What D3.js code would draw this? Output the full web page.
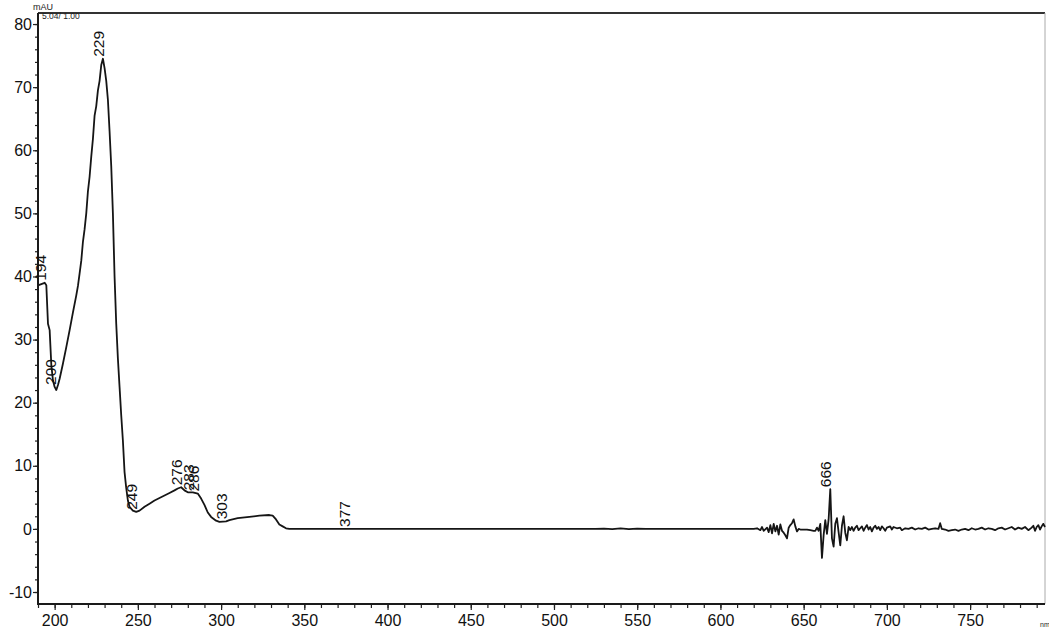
<!DOCTYPE html>
<html>
<head>
<meta charset="utf-8">
<script src="https://cdn.jsdelivr.net/npm/d3@7"></script>
<style>
  html, body { margin: 0; padding: 0; background: #fff; }
  svg { display: block; font-family: "Liberation Sans", Arial, sans-serif; }
</style>
</head>
<body>
<svg id="chart" width="1049" height="632"></svg>
<script>
// UV-Vis spectrum (DAD), wavelength in nm, absorbance in mAU
const wavelengths = [
  190, 192, 194, 195, 196, 197, 198, 199, 200, 201, 202, 203, 205, 207, 209, 211, 213, 214,
  215, 216, 217, 218, 219, 220, 221, 222, 223, 224, 225, 226, 227, 228, 229, 230, 231, 232,
  233, 234, 235, 236, 237, 238, 239, 240, 241, 242, 243, 244, 245, 247, 249, 251, 254, 257,
  260, 263, 266, 269, 272, 274, 276, 278, 280, 283, 286, 288, 290, 292, 294, 297, 299, 303,
  305, 310, 317, 323, 329, 331, 333, 335, 337, 339, 341, 345, 377, 400, 450, 500, 525, 530,
  535, 540, 545, 550, 555, 600, 620, 622, 624, 625, 626, 628, 629, 630, 631, 632, 633, 634,
  635, 636, 637, 638, 639, 640, 641, 642, 643, 644, 645, 646, 647, 648, 650, 652, 654, 656,
  657, 658, 659, 660, 661, 662, 663, 664, 665, 666, 667, 668, 669, 670, 671, 672, 673, 674,
  675, 676, 677, 678, 679, 680, 681, 682, 683, 684, 685, 686, 687, 688, 689, 690, 691, 692,
  693, 694, 695, 696, 697, 698, 699, 700, 702, 703, 704, 706, 708, 709, 711, 713, 715, 717,
  719, 721, 723, 725, 727, 729, 731, 732, 733, 735, 737, 739, 741, 743, 745, 747, 749, 751,
  753, 755, 757, 759, 761, 763, 765, 767, 769, 771, 773, 775, 777, 779, 781, 783, 785, 787,
  788, 789, 790, 791, 792, 793, 794, 795
];
const absorbance = [
  38.6, 38.8, 39.0, 38.6, 32.5, 31.5, 26.0, 23.5, 22.5, 22.0, 22.8, 23.8, 26.2, 28.8, 31.5, 34.3, 37.0, 38.5,
  40.5, 42.5, 45.5, 47.5, 50.0, 53.5, 55.8, 59.0, 61.8, 65.5, 67.0, 69.5, 71.0, 73.5, 74.5, 73.0, 71.0, 68.0,
  63.0, 57.5, 50.0, 40.0, 32.5, 27.0, 22.5, 18.0, 14.0, 9.0, 6.5, 4.5, 3.5, 2.9, 2.7, 2.9, 3.5, 4.0,
  4.5, 4.9, 5.3, 5.7, 6.1, 6.4, 6.6, 6.1, 5.8, 5.8, 5.6, 4.8, 3.8, 2.6, 1.9, 1.3, 1.1, 1.2,
  1.4, 1.7, 1.9, 2.1, 2.2, 2.1, 1.5, 0.7, 0.4, 0.1, 0.0, 0.0, 0.0, 0.0, 0.0, 0.0, 0.0, 0.05,
  -0.05, 0.08, -0.05, 0.05, 0.0, 0.0, 0.0, 0.1, -0.2, 0.3, -0.3, 0.2, -0.5, 0.6, -0.7, 0.8, -0.4, 0.5,
  -0.9, 0.7, -0.3, -0.6, -1.0, -1.5, 0.2, 0.6, 0.9, 1.5, 0.4, -0.4, 0.0, -0.1, -0.1, -0.1, -0.2, -0.3,
  -0.3, 0.2, -0.3, 0.8, -4.6, -1.0, 1.4, -0.8, 1.5, 6.3, -1.5, -2.8, 0.8, 1.7, -0.5, -2.6, 0.5, 2.0,
  -0.6, -1.8, 0.3, -0.2, 0.3, -0.3, 0.2, 0.5, -0.2, 0.1, 0.4, -0.3, 0.2, 0.6, -0.1, 0.3, -0.4, 0.2,
  0.5, 0.0, 0.3, -0.2, 0.4, 0.1, -0.3, 0.2, 0.4, -0.1, 0.3, 0.1, 0.2, -0.2, 0.1, 0.0, 0.2, -0.1,
  0.1, 0.0, 0.2, -0.1, 0.0, 0.1, 0.0, 0.9, 0.0, -0.1, -0.3, -0.2, -0.1, -0.3, -0.1, 0.0, -0.2, 0.1,
  -0.1, 0.0, 0.2, -0.1, 0.1, 0.0, -0.2, 0.1, 0.2, -0.1, 0.1, 0.3, -0.1, 0.2, 0.0, 0.3, -0.2, 0.2,
  0.5, -0.3, 0.3, 0.6, -0.1, 0.4, 0.8, 0.3
];
// Wavelengths annotated by the peak finder
const peakLabels = [194, 200, 229, 249, 276, 283, 286, 303, 377, 666];
// Axis ticks
const yTickValues = [-10, 0, 10, 20, 30, 40, 50, 60, 70, 80];
const xTickValues = [200, 250, 300, 350, 400, 450, 500, 550, 600, 650, 700, 750];

const svg = d3.select("#chart");
const plotLeft = 38, plotRight = 1045, plotTop = 13, plotBottom = 604;

const x = d3.scaleLinear().domain([190, 795]).range([plotLeft, plotRight]);
const y = d3.scaleLinear().domain([-11.9, 81.75]).range([plotBottom, plotTop]);

const points = wavelengths.map((w, i) => [w, absorbance[i]]);

// Frame: dark top line, light right edge
svg.append("line").attr("x1", plotLeft).attr("x2", plotRight).attr("y1", plotTop).attr("y2", plotTop)
  .attr("stroke", "#333").attr("stroke-width", 2);
svg.append("line").attr("x1", plotRight).attr("x2", plotRight).attr("y1", plotTop).attr("y2", plotBottom)
  .attr("stroke", "#aaa").attr("stroke-width", 1);

// Spectrum trace
svg.append("path")
  .datum(points)
  .attr("fill", "none")
  .attr("stroke", "#151515")
  .attr("stroke-width", 1.8)
  .attr("stroke-linejoin", "round")
  .attr("d", d3.line().x(d => x(d[0])).y(d => y(d[1])));

// Plain hyphen-minus for negative tick labels
const plainInt = d => String(d);

// Y axis: minor ticks every 2 mAU, labels every 10
const yAxisMinor = d3.axisLeft(y).tickValues(d3.range(-10, 81, 2)).tickSize(3).tickFormat("");
svg.append("g").attr("transform", `translate(${plotLeft},0)`).call(yAxisMinor)
  .call(g => g.select(".domain").remove())
  .call(g => g.selectAll("line").attr("stroke", "#222").attr("stroke-width", 1.2));
const yAxis = d3.axisLeft(y).tickValues(yTickValues).tickSize(5).tickPadding(1).tickFormat(plainInt);
svg.append("g").attr("transform", `translate(${plotLeft},0)`).call(yAxis)
  .call(g => g.select(".domain").remove())
  .call(g => g.selectAll("line").attr("stroke", "#222").attr("stroke-width", 1.2))
  .call(g => g.selectAll("text").attr("font-size", 16).attr("fill", "#111")
    .attr("font-family", "'Liberation Sans', Arial, sans-serif"));

// X axis: minor ticks every 10 nm, labels every 50 nm
const xAxisMinor = d3.axisBottom(x).tickValues(d3.range(190, 795, 10)).tickSize(4).tickFormat("");
svg.append("g").attr("transform", `translate(0,${plotBottom})`).call(xAxisMinor)
  .call(g => g.select(".domain").remove())
  .call(g => g.selectAll("line").attr("stroke", "#222").attr("stroke-width", 1.2));
const xAxis = d3.axisBottom(x).tickValues(xTickValues).tickSize(6).tickPadding(5).tickFormat(plainInt);
svg.append("g").attr("transform", `translate(0,${plotBottom})`).call(xAxis)
  .call(g => g.select(".domain").remove())
  .call(g => g.selectAll("line").attr("stroke", "#222").attr("stroke-width", 1.2))
  .call(g => g.selectAll("text").attr("font-size", 16).attr("fill", "#111")
    .attr("font-family", "'Liberation Sans', Arial, sans-serif"));

// Axis lines
svg.append("line").attr("x1", plotLeft).attr("x2", plotLeft).attr("y1", plotTop).attr("y2", plotBottom + 1)
  .attr("stroke", "#1a1a1a").attr("stroke-width", 2);
svg.append("line").attr("x1", plotLeft - 1).attr("x2", plotRight).attr("y1", plotBottom).attr("y2", plotBottom)
  .attr("stroke", "#1a1a1a").attr("stroke-width", 2);

// Units and scaling annotation
svg.append("text").attr("x", 33).attr("y", 10).attr("font-size", 9).attr("fill", "#222").text("mAU");
svg.append("text").attr("x", 42).attr("y", 19).attr("font-size", 8.5).attr("fill", "#222").text("5.04/ 1.00");
svg.append("text").attr("x", 1040).attr("y", 627).attr("font-size", 7).attr("fill", "#222").text("nm");

// Peak wavelength labels, rotated, sitting just above the trace
const valueAt = w => {
  const i = d3.bisectLeft(wavelengths, w);
  if (wavelengths[i] === w) return absorbance[i];
  const w0 = wavelengths[i - 1], w1 = wavelengths[i];
  const t = (w - w0) / (w1 - w0);
  return absorbance[i - 1] + t * (absorbance[i] - absorbance[i - 1]);
};
svg.append("g").selectAll("text")
  .data(peakLabels)
  .join("text")
  .attr("transform", d => `translate(${x(d) + 1},${y(valueAt(d)) - 2}) rotate(-90)`)
  .attr("text-anchor", "start")
  .attr("font-size", 15.5)
  .attr("fill", "#111")
  .text(d => d);
</script>
</body>
</html>
